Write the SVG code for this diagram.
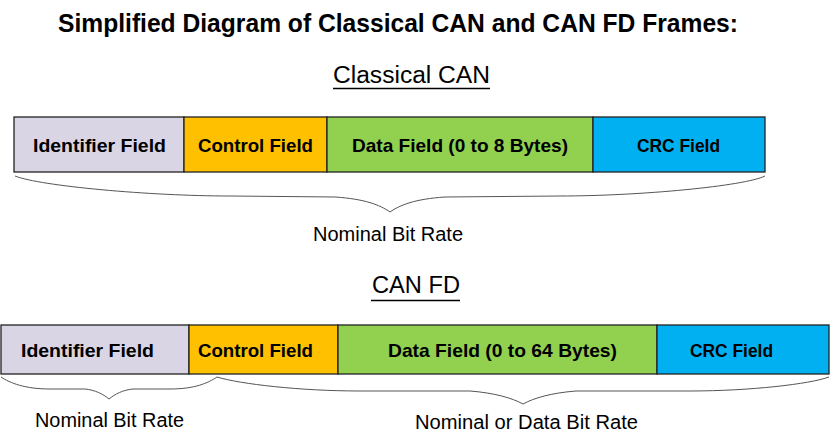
<svg xmlns="http://www.w3.org/2000/svg" width="830" height="439" viewBox="0 0 830 439">
<style>
.title{font-family:"Liberation Sans",Arial,sans-serif;font-weight:bold;font-size:26px;fill:#000}
.sub{font-family:"Liberation Sans",Arial,sans-serif;font-size:23px;fill:#000}
.lbl{font-family:"Liberation Sans",Arial,sans-serif;font-weight:bold;font-size:19px;fill:#000}
.note{font-family:"Liberation Sans",Arial,sans-serif;font-size:20px;fill:#000}
.box{stroke:#222;stroke-width:1.3}
.id{fill:#DAD5E5}
.ctl{fill:#FFC000}
.dat{fill:#92D050}
.crc{fill:#00B0F0}
.brace{fill:none;stroke:#555;stroke-width:1}
.ul{stroke:#000;stroke-width:1.6}
</style>
<rect width="830" height="439" fill="#fff"/>
<text class="title" x="58" y="32" textLength="680" lengthAdjust="spacingAndGlyphs">Simplified Diagram of Classical CAN and CAN FD Frames:</text>
<g id="heading-classical">
<text class="sub" x="333" y="83" textLength="157" lengthAdjust="spacingAndGlyphs">Classical CAN</text>
<line class="ul" x1="333" y1="88.5" x2="490" y2="88.5"/>
</g>
<g id="heading-fd">
<text class="sub" x="372" y="293" textLength="88" lengthAdjust="spacingAndGlyphs">CAN FD</text>
<line class="ul" x1="371" y1="300.5" x2="460" y2="300.5"/>
</g>
<g id="c-identifier"><rect class="box id" x="14" y="117" width="170" height="55"/><text class="lbl" x="33" y="152" textLength="133" lengthAdjust="spacingAndGlyphs">Identifier Field</text></g>
<g id="c-control"><rect class="box ctl" x="184" y="117" width="143" height="55"/><text class="lbl" x="198" y="152" textLength="115" lengthAdjust="spacingAndGlyphs">Control Field</text></g>
<g id="c-data"><rect class="box dat" x="327" y="117" width="266" height="55"/><text class="lbl" x="352" y="152" textLength="216" lengthAdjust="spacingAndGlyphs">Data Field (0 to 8 Bytes)</text></g>
<g id="c-crc"><rect class="box crc" x="593" y="117" width="172" height="55"/><text class="lbl" x="637" y="152" textLength="83" lengthAdjust="spacingAndGlyphs">CRC Field</text></g>
<g id="f-identifier"><rect class="box id" x="1" y="325" width="188" height="49"/><text class="lbl" x="21" y="357" textLength="133" lengthAdjust="spacingAndGlyphs">Identifier Field</text></g>
<g id="f-control"><rect class="box ctl" x="189" y="325" width="149" height="49"/><text class="lbl" x="198" y="357" textLength="115" lengthAdjust="spacingAndGlyphs">Control Field</text></g>
<g id="f-data"><rect class="box dat" x="338" y="325" width="319" height="49"/><text class="lbl" x="388" y="357" textLength="229" lengthAdjust="spacingAndGlyphs">Data Field (0 to 64 Bytes)</text></g>
<g id="f-crc"><rect class="box crc" x="657" y="325" width="172" height="49"/><text class="lbl" x="690" y="357" textLength="83" lengthAdjust="spacingAndGlyphs">CRC Field</text></g>
<g id="connectors">
<path class="brace" d="M15,176 C40,186 150,196 230,196 L335,197 C365,199 380,205 390,212 C400,205 415,199 445,197 L560,196 C640,196 745,186 765,176"/>
<path class="brace" d="M1,377 C10,383 25,389 50,389 L85,389 C95,390 103,394 109,399 C115,394 123,390 133,389 L170,389 C195,389 208,383 217,377"/>
<path class="brace" d="M217,377 C240,384 300,391 360,391 L470,391 C495,393 512,398 523,404 C534,398 551,393 576,391 L690,391 C750,391 810,384 829,377"/>
</g>
<g id="rate-labels">
<text class="note" x="313" y="241" textLength="150" lengthAdjust="spacingAndGlyphs">Nominal Bit Rate</text>
<text class="note" x="35" y="427" textLength="149" lengthAdjust="spacingAndGlyphs">Nominal Bit Rate</text>
<text class="note" x="415" y="429" textLength="223" lengthAdjust="spacingAndGlyphs">Nominal or Data Bit Rate</text>
</g>
</svg>
